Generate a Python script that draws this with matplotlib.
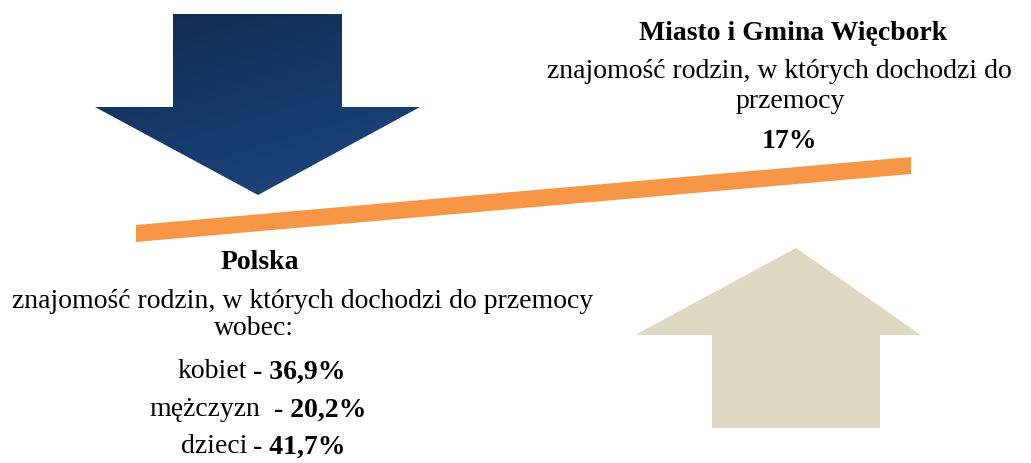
import numpy as np
import matplotlib.pyplot as plt
from matplotlib.patches import Polygon
from matplotlib.colors import LinearSegmentedColormap

# Dane
tytul_gmina = "Miasto i Gmina Więcbork"
opis_gmina = ["znajomość rodzin, w których dochodzi do", "przemocy"]
wartosc_gmina = 17

tytul_polska = "Polska"
opis_polska = ["znajomość rodzin, w których dochodzi do przemocy", "wobec:"]
grupy = ["kobiet", "mężczyzn", "dzieci"]
wartosci = [36.9, 20.2, 41.7]

def procent(v):
    s = ("%.1f" % v).replace(".", ",") if v != int(v) else "%d" % v
    return s + "%"

plt.rcParams['font.family'] = ['Liberation Serif', 'DejaVu Serif']

fig = plt.figure(figsize=(10.31, 4.64), dpi=100)
ax = fig.add_axes([0, 0, 1, 1])
ax.set_xlim(0, 1031)
ax.set_ylim(464, 0)
ax.axis("off")

# strzałka w dół (gradient granatowy)
dol = [(173, 15), (342, 15), (342, 108), (420, 108), (258, 196),
       (95, 108), (173, 108)]
p = Polygon(dol, closed=True, facecolor="none", edgecolor="none")
ax.add_patch(p)
cmap = LinearSegmentedColormap.from_list("granat", ["#112a50", "#163a6a", "#1b477f"])
gx, gy = np.meshgrid(np.linspace(0, 1, 200), np.linspace(0, 1, 200))
grad = 0.35 * gx + 0.65 * gy
im = ax.imshow(grad, cmap=cmap, extent=(95, 420, 196, 15), origin="upper",
               aspect="auto", zorder=2)
im.set_clip_path(p)
ax.set_xlim(0, 1031)
ax.set_ylim(464, 0)

# strzałka w górę (beżowa)
gora = [(796, 249), (921, 336), (880, 336), (880, 429), (712, 429),
        (712, 336), (635, 336)]
ax.add_patch(Polygon(gora, closed=True, facecolor="#ddd9c3", edgecolor="none", zorder=2))

# belka pomarańczowa
belka = [(136, 226), (911, 158), (911, 175), (136, 243)]
ax.add_patch(Polygon(belka, closed=True, facecolor="#f79646", edgecolor="none", zorder=3))

fs = 20

# tekst - gmina
ax.text(793, 33, tytul_gmina, ha="center", va="center", fontsize=fs, fontweight="bold")
ax.text(779, 72, opis_gmina[0], ha="center", va="center", fontsize=fs)
ax.text(790, 102, opis_gmina[1], ha="center", va="center", fontsize=fs)
ax.text(790, 142, procent(wartosc_gmina), ha="center", va="center", fontsize=fs, fontweight="bold")

# tekst - Polska
ax.text(260, 263, tytul_polska, ha="center", va="center", fontsize=fs, fontweight="bold")
ax.text(303, 302, opis_polska[0], ha="center", va="center", fontsize=fs)
ax.text(254, 329, opis_polska[1], ha="center", va="center", fontsize=fs)

koniec_slowa = [247, 260, 247]
start_myslnika = [253, 274, 253]
wiersze_y = [372, 410, 447]
for g, v, xk, xs, y in zip(grupy, wartosci, koniec_slowa, start_myslnika, wiersze_y):
    ax.text(xk, y, g, ha="right", va="center", fontsize=fs)
    ax.text(xs, y, "- " + procent(v), ha="left", va="center", fontsize=fs, fontweight="bold")

plt.savefig("out.png", dpi=100)
